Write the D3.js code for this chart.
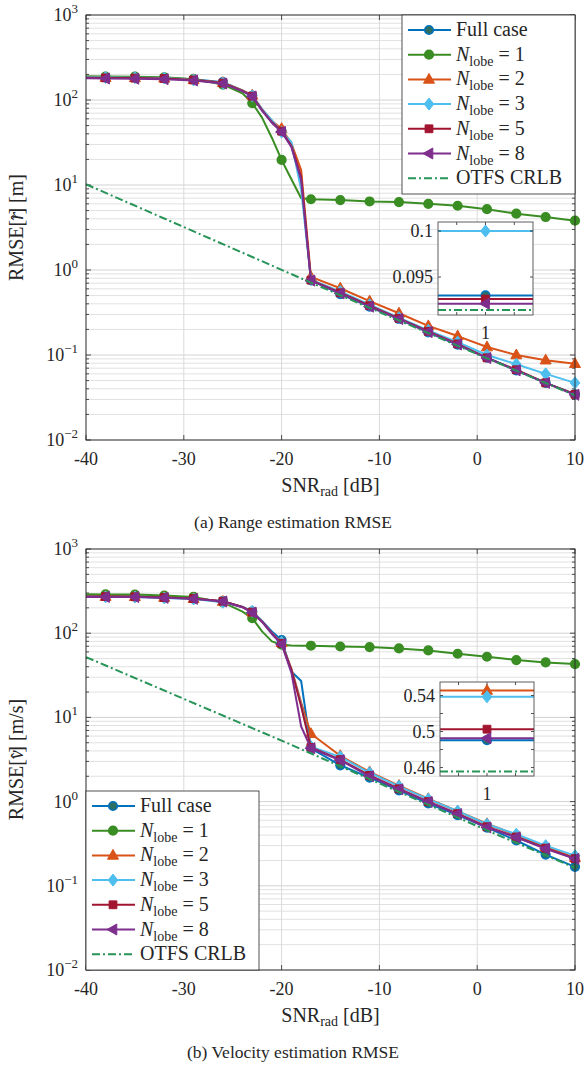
<!DOCTYPE html>
<html>
<head>
<meta charset="utf-8">
<script src="https://cdn.jsdelivr.net/npm/d3@7"></script>
<style>
  body { margin: 0; background: #fff; }
  text { font-family: "Liberation Serif", "Times New Roman", serif; fill: #262626; }
</style>
</head>
<body>
<svg id="chart" width="586" height="1067"></svg>
<script>
// SNR grid (dB) and the points that carry markers
const snr = [-40, -38, -35, -32, -29, -26, -24, -23, -22, -21, -20, -19, -18, -17, -14, -11, -8, -5, -2, 1, 4, 7, 10];
const markerSnr = [-38, -35, -32, -29, -26, -23, -20, -17, -14, -11, -8, -5, -2, 1, 4, 7, 10];
const xTicks = [-40, -30, -20, -10, 0, 10];
const insetSnr = 1;

// (a) range RMSE [m]
const rangeFull = [186, 184, 183, 181, 175, 162, 130, 112, 76, 55, 43, 29, 11, 0.76, 0.52, 0.37, 0.265, 0.185, 0.132, 0.0930, 0.066, 0.047, 0.0345];
const rangeN1 = [190, 189, 188, 185, 176, 152, 120, 92, 62, 36, 19.7, 11.7, 7.0, 6.8, 6.65, 6.4, 6.3, 6.0, 5.7, 5.2, 4.6, 4.2, 3.8];
const rangeN2 = [184, 183, 182, 180, 173, 160, 130, 114, 78, 57, 46, 31, 15, 0.83, 0.61, 0.43, 0.31, 0.22, 0.167, 0.124, 0.1, 0.087, 0.079];
const rangeN3 = [185, 184, 183, 181, 172, 157, 128, 112, 78, 58, 42, 32, 8.8, 0.77, 0.56, 0.39, 0.275, 0.195, 0.142, 0.1, 0.078, 0.06, 0.047];
const rangeN5 = [183, 182, 181, 179, 172, 158, 128, 111, 76, 55, 43, 29, 12.5, 0.76, 0.54, 0.38, 0.27, 0.19, 0.135, 0.0926, 0.067, 0.047, 0.0345];
const rangeN8 = [180, 179, 178, 176, 170, 156, 127, 110, 75, 54, 42, 28, 11.5, 0.75, 0.53, 0.37, 0.265, 0.186, 0.133, 0.0921, 0.066, 0.047, 0.034];
const rangeCrlbSnr = [-40, -17, 1, 10];
const rangeCrlb = [10.2, 0.71, 0.0914, 0.0335];
const rangeInsetTicks = [0.095, 0.1];

// (b) velocity RMSE [m/s]
const velFull = [275, 275, 274, 266, 258, 240, 205, 180, 140, 105, 83, 35, 27, 4.3, 2.7, 1.93, 1.36, 0.95, 0.69, 0.4903, 0.345, 0.235, 0.168];
const velN1 = [290, 289, 288, 280, 270, 232, 180, 151, 105, 80, 73, 71.5, 71, 71, 69.5, 68.5, 66, 62.5, 57, 52.5, 48, 45, 43];
const velN2 = [272, 272, 271, 265, 257, 238, 205, 178, 138, 100, 77, 38, 15, 6.4, 3.5, 2.25, 1.55, 1.08, 0.77, 0.5456, 0.40, 0.29, 0.215];
const velN3 = [272, 270, 269, 262, 255, 233, 205, 182, 140, 100, 78, 37, 14, 4.5, 3.4, 2.2, 1.52, 1.07, 0.77, 0.5386, 0.41, 0.30, 0.228];
const velN5 = [272, 272, 271, 265, 258, 240, 205, 178, 138, 100, 76, 37, 13.6, 4.4, 3.15, 2.05, 1.42, 1.0, 0.72, 0.5026, 0.38, 0.28, 0.21];
const velN8 = [270, 270, 269, 263, 256, 238, 203, 176, 136, 98, 74, 34, 7.8, 4.3, 3.1, 2.0, 1.40, 0.99, 0.71, 0.4926, 0.377, 0.275, 0.209];
const velCrlbSnr = [-40, -20, 1, 10];
const velCrlb = [52, 5.3, 0.4556, 0.164];
const velInsetTicks = [0.46, 0.48, 0.5, 0.52, 0.54];
const velInsetLabels = [0.46, 0.5, 0.54];

const lobeLabels = ['1', '2', '3', '5', '8'];

const styles = [
  { color: '#0072BD', marker: 'circle', fill: '#2d6e64' },
  { color: '#3a8d23', marker: 'circle', fill: '#3a8d23' },
  { color: '#D95319', marker: 'triangle', fill: '#D95319' },
  { color: '#4DBEEE', marker: 'diamond', fill: '#4DBEEE' },
  { color: '#A2142F', marker: 'square', fill: '#A2142F' },
  { color: '#7E2F8E', marker: 'left', fill: '#7E2F8E' },
];
const crlbColor = '#279458';
const lw = 2;

const svg = d3.select('#chart');
svg.append('rect').attr('width', 586).attr('height', 1067).attr('fill', '#fff');

function markerPath(kind) {
  if (kind === 'circle') return d3.symbol(d3.symbolCircle, 58)();
  if (kind === 'triangle') return 'M0,-6L5.5,3.8L-5.5,3.8Z';
  if (kind === 'diamond') return 'M0,-6L4.8,0L0,6L-4.8,0Z';
  if (kind === 'square') return 'M-3.9,-3.9H3.9V3.9H-3.9Z';
  return 'M-6,0L3.8,-5.5L3.8,5.5Z';
}

function drawMarker(g, cx, cy, st) {
  g.append('path')
    .attr('d', markerPath(st.marker))
    .attr('transform', `translate(${cx},${cy})`)
    .attr('fill', st.fill)
    .attr('stroke', st.color)
    .attr('stroke-width', st.marker === 'circle' ? 1.6 : 1);
}

function lobeText(sel, n) {
  sel.append('tspan').attr('font-style', 'italic').text('N');
  sel.append('tspan').attr('font-size', 14).attr('dy', 5).text('lobe');
  sel.append('tspan').attr('dy', -5).text(' = ' + n);
}

function drawPanel(cfg) {
  const g = svg.append('g');
  const x = d3.scaleLinear().domain([-40, 10]).range([cfg.left, cfg.right]);
  const y = d3.scaleLog().domain([1e-2, 1e3]).range([cfg.bottom, cfg.top]);
  const yTicks = y.ticks();
  const isMajor = v => Math.abs(Math.log10(v) - Math.round(Math.log10(v))) < 1e-9;

  // grid
  g.selectAll('.minor').data(yTicks.filter(v => !isMajor(v))).join('line')
    .attr('x1', cfg.left).attr('x2', cfg.right)
    .attr('y1', d => y(d)).attr('y2', d => y(d))
    .attr('stroke', '#e1e1e1').attr('stroke-width', 1);
  g.selectAll('.hmajor').data(yTicks.filter(isMajor)).join('line')
    .attr('x1', cfg.left).attr('x2', cfg.right)
    .attr('y1', d => y(d)).attr('y2', d => y(d))
    .attr('stroke', '#d2d2d2').attr('stroke-width', 1);
  g.selectAll('.vmajor').data(xTicks).join('line')
    .attr('x1', d => x(d)).attr('x2', d => x(d))
    .attr('y1', cfg.top).attr('y2', cfg.bottom)
    .attr('stroke', '#dadada').attr('stroke-width', 1);

  // ticks (inward, both sides)
  const tk = g.append('g').attr('stroke', '#262626').attr('stroke-width', 0.8);
  for (const v of yTicks) {
    const len = isMajor(v) ? 5 : 3;
    tk.append('line').attr('x1', cfg.left).attr('x2', cfg.left + len).attr('y1', y(v)).attr('y2', y(v));
    tk.append('line').attr('x1', cfg.right).attr('x2', cfg.right - len).attr('y1', y(v)).attr('y2', y(v));
  }
  for (const v of xTicks) {
    tk.append('line').attr('x1', x(v)).attr('x2', x(v)).attr('y1', cfg.bottom).attr('y2', cfg.bottom - 5);
    tk.append('line').attr('x1', x(v)).attr('x2', x(v)).attr('y1', cfg.top).attr('y2', cfg.top + 5);
  }

  // tick labels
  g.selectAll('.xl').data(xTicks).join('text')
    .attr('x', d => x(d)).attr('y', cfg.bottom + 25)
    .attr('text-anchor', 'middle').attr('font-size', 18)
    .text(d => d);
  for (const v of yTicks.filter(isMajor)) {
    const t = g.append('text').attr('x', cfg.left - 8).attr('y', y(v) + 6)
      .attr('text-anchor', 'end').attr('font-size', 18);
    const e = Math.round(Math.log10(v));
    t.append('tspan').text('10');
    t.append('tspan').attr('dy', -8).attr('font-size', 13).text(e < 0 ? '\u2212' + (-e) : e);
  }

  // axis titles and caption
  const xt = g.append('text').attr('x', (cfg.left + cfg.right) / 2).attr('y', cfg.bottom + 52)
    .attr('text-anchor', 'middle').attr('font-size', 20);
  xt.append('tspan').text('SNR');
  xt.append('tspan').attr('font-size', 14).attr('dy', 4).text('rad');
  xt.append('tspan').attr('dy', -4).text(' [dB]');

  const yt = g.append('text')
    .attr('transform', `translate(${cfg.left - 63},${(cfg.top + cfg.bottom) / 2}) rotate(-90)`)
    .attr('text-anchor', 'middle').attr('font-size', 20);
  yt.append('tspan').text('RMSE[');
  yt.append('tspan').attr('font-style', 'italic').text(cfg.yVar);
  yt.append('tspan').attr('dx', -8.5).attr('dy', 1).attr('font-size', 18).text('\u02C6');
  yt.append('tspan').attr('dy', -1).text('] [' + cfg.yUnit + ']');

  g.append('text').attr('x', 293).attr('y', cfg.bottom + 88)
    .attr('text-anchor', 'middle').attr('font-size', 17.5).attr('fill', '#111')
    .text(cfg.caption);

  // series
  const line = d3.line().x(d => x(d[0])).y(d => y(d[1]));
  cfg.series.forEach((vals, i) => {
    const st = styles[i];
    const pts = snr.map((s, k) => [s, vals[k]]);
    g.append('path').datum(pts)
      .attr('fill', 'none').attr('stroke', st.color).attr('stroke-width', lw)
      .attr('stroke-linejoin', 'round').attr('d', line);
    const mg = g.append('g');
    pts.filter(p => markerSnr.includes(p[0]))
      .forEach(p => drawMarker(mg, x(p[0]), y(p[1]), st));
  });
  g.append('path').datum(cfg.crlbSnr.map((s, k) => [s, cfg.crlb[k]]))
    .attr('fill', 'none').attr('stroke', crlbColor).attr('stroke-width', lw)
    .attr('stroke-dasharray', '8,3,2,3').attr('d', line);

  // frame
  g.append('rect').attr('x', cfg.left).attr('y', cfg.top)
    .attr('width', cfg.right - cfg.left).attr('height', cfg.bottom - cfg.top)
    .attr('fill', 'none').attr('stroke', '#262626').attr('stroke-width', 0.9);

  drawInset(cfg);
  drawLegend(cfg.legend);
}

function drawInset(cfg) {
  const b = cfg.inset;
  const g = svg.append('g');
  const x = d3.scaleLinear().domain([insetSnr - 0.0165, insetSnr + 0.0165]).range([b.x, b.x + b.w]);
  const y = d3.scaleLinear().domain(b.domain).range([b.y + b.h, b.y]);
  const id = 'clip' + b.y;
  g.append('clipPath').attr('id', id).append('rect')
    .attr('x', b.x).attr('y', b.y).attr('width', b.w).attr('height', b.h);
  g.append('rect').attr('x', b.x).attr('y', b.y).attr('width', b.w).attr('height', b.h).attr('fill', '#fff');

  const k = snr.indexOf(insetSnr);
  const body = g.append('g').attr('clip-path', `url(#${id})`);
  cfg.series.forEach((vals, i) => {
    const st = styles[i];
    const v = vals[k];
    body.append('line').attr('x1', b.x).attr('x2', b.x + b.w).attr('y1', y(v)).attr('y2', y(v))
      .attr('stroke', st.color).attr('stroke-width', lw);
    drawMarker(body, x(insetSnr), y(v), st);
  });
  const cv = cfg.crlb[cfg.crlbSnr.indexOf(insetSnr)];
  body.append('line').attr('x1', b.x).attr('x2', b.x + b.w).attr('y1', y(cv)).attr('y2', y(cv))
    .attr('stroke', crlbColor).attr('stroke-width', lw).attr('stroke-dasharray', '8,3,2,3');

  const tk = g.append('g').attr('stroke', '#262626').attr('stroke-width', 0.8);
  for (const v of [insetSnr - 0.01, insetSnr, insetSnr + 0.01]) {
    tk.append('line').attr('x1', x(v)).attr('x2', x(v)).attr('y1', b.y).attr('y2', b.y + 3);
    tk.append('line').attr('x1', x(v)).attr('x2', x(v)).attr('y1', b.y + b.h).attr('y2', b.y + b.h - 3);
  }
  for (const v of b.ticks) {
    tk.append('line').attr('x1', b.x).attr('x2', b.x + 3).attr('y1', y(v)).attr('y2', y(v));
    tk.append('line').attr('x1', b.x + b.w).attr('x2', b.x + b.w - 3).attr('y1', y(v)).attr('y2', y(v));
  }
  g.selectAll('.il').data(b.labels).join('text')
    .attr('x', b.x - 5).attr('y', d => y(d) + 6)
    .attr('text-anchor', 'end').attr('font-size', 18)
    .text(d => d);
  g.append('text').attr('x', x(insetSnr)).attr('y', b.y + b.h + 24)
    .attr('text-anchor', 'middle').attr('font-size', 18).text(insetSnr);
  g.append('rect').attr('x', b.x).attr('y', b.y).attr('width', b.w).attr('height', b.h)
    .attr('fill', 'none').attr('stroke', '#4d4d4d').attr('stroke-width', 0.9);
}

function drawLegend(pos) {
  const g = svg.append('g');
  g.append('rect').attr('x', pos.x).attr('y', pos.y).attr('width', 173).attr('height', 179)
    .attr('fill', '#fff').attr('stroke', '#262626').attr('stroke-width', 0.8);
  const labels = ['Full case', ...lobeLabels, 'OTFS CRLB'];
  labels.forEach((lab, i) => {
    const cy = pos.y + 15 + i * 24.7;
    const ln = g.append('line').attr('x1', pos.x + 6).attr('x2', pos.x + 49)
      .attr('y1', cy).attr('y2', cy).attr('stroke-width', lw);
    const t = g.append('text').attr('x', pos.x + 54).attr('y', cy + 6).attr('font-size', 20);
    if (i < styles.length) {
      ln.attr('stroke', styles[i].color);
      drawMarker(g, pos.x + 27, cy, styles[i]);
      if (i === 0) t.text(lab); else lobeText(t, lab);
    } else {
      ln.attr('stroke', crlbColor).attr('stroke-dasharray', '8,3,2,3');
      t.text(lab);
    }
  });
}

drawPanel({
  left: 86, right: 575, top: 15, bottom: 440,
  series: [rangeFull, rangeN1, rangeN2, rangeN3, rangeN5, rangeN8],
  crlbSnr: rangeCrlbSnr, crlb: rangeCrlb,
  yVar: 'r', yUnit: 'm',
  caption: '(a) Range estimation RMSE',
  legend: { x: 402, y: 15 },
  inset: { x: 438, y: 222, w: 95, h: 93, domain: [0.09087, 0.10098], ticks: rangeInsetTicks, labels: rangeInsetTicks },
});

drawPanel({
  left: 86, right: 575, top: 549, bottom: 970,
  series: [velFull, velN1, velN2, velN3, velN5, velN8],
  crlbSnr: velCrlbSnr, crlb: velCrlb,
  yVar: 'v', yUnit: 'm/s',
  caption: '(b) Velocity estimation RMSE',
  legend: { x: 86, y: 791 },
  inset: { x: 440, y: 682, w: 94, h: 94, domain: [0.4506, 0.555], ticks: velInsetTicks, labels: velInsetLabels },
});
</script>
</body>
</html>
